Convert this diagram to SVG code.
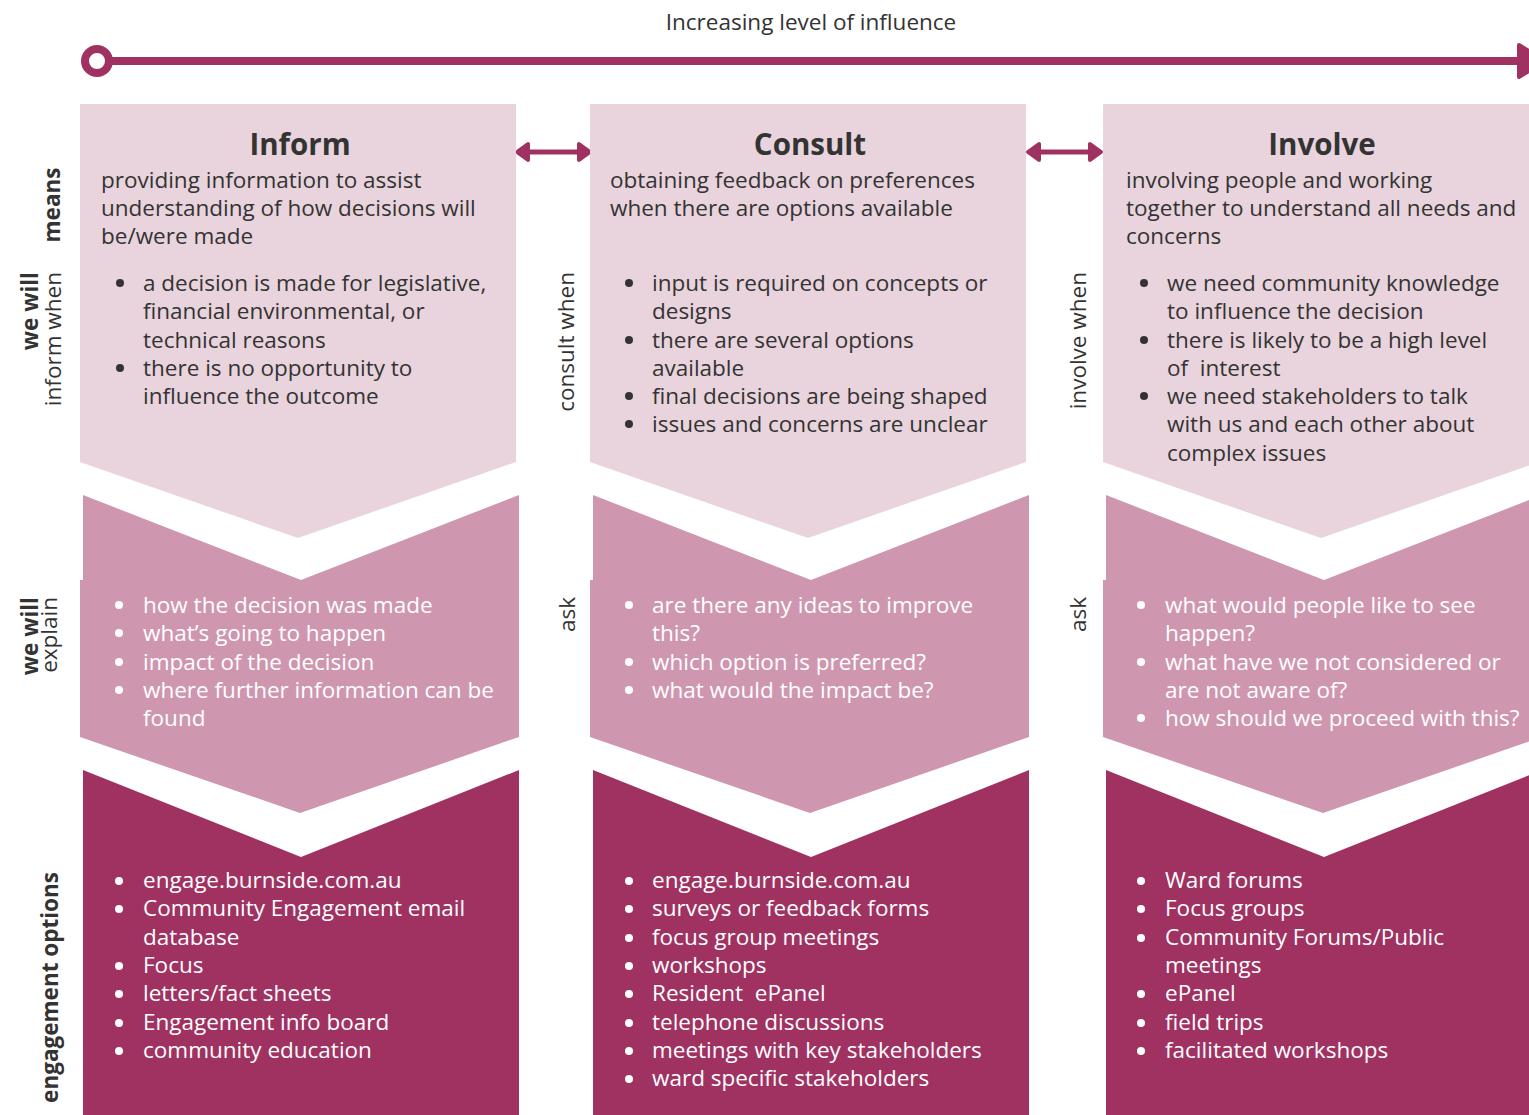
<svg xmlns="http://www.w3.org/2000/svg" width="1529" height="1115" viewBox="0 0 1529 1115">
<style>
.t{font-family:"Open Sans","Noto Sans","Liberation Sans",sans-serif;font-size:22.5px}
.dk{fill:#333333}
.wt{fill:#ffffff}
.h{font-weight:700;font-size:29.5px;text-anchor:middle;fill:#333333}
.b{font-weight:700}
.end{text-anchor:end}
.mid{text-anchor:middle}
.p1{fill:#E9D3DC}
.p2{fill:#CF97AF}
.p3{fill:#A03261}
.ln{stroke:#A03261;fill:none}
.ah{fill:#A03261;stroke:#A03261;stroke-linejoin:round;stroke-width:4}
.bd{fill:#333333}
.bw{fill:#ffffff}
</style>
<rect width="1529" height="1115" fill="#ffffff"/>

<g id="connectors">
  <text class="t dk mid" x="811" y="30">Increasing level of influence</text>
  <line class="ln" x1="109" y1="61" x2="1522" y2="61" stroke-width="8"/>
  <circle cx="97" cy="61" r="12" fill="#ffffff" stroke="#A03261" stroke-width="8"/>
  <polygon class="ah" points="1519,45 1545,61 1519,77"/>
  <line class="ln" x1="526" y1="152" x2="580" y2="152" stroke-width="5"/>
  <polygon class="ah" points="517,152 528,144 528,160"/>
  <polygon class="ah" points="590,152 579,144 579,160"/>
  <line class="ln" x1="1036" y1="152" x2="1093" y2="152" stroke-width="5"/>
  <polygon class="ah" points="1028,152 1039,144 1039,160"/>
  <polygon class="ah" points="1101,152 1090,144 1090,160"/>
</g>

<g id="row-labels">
  <text class="t dk b mid" transform="translate(60,205) rotate(-90)">means</text>
  <text class="t dk b end" transform="translate(38,272) rotate(-90)">we will</text>
  <text class="t dk end" transform="translate(61,272) rotate(-90)">inform when</text>
  <text class="t dk end" transform="translate(574,272) rotate(-90)">consult when</text>
  <text class="t dk end" transform="translate(1086,272) rotate(-90)">involve when</text>
  <text class="t dk b end" transform="translate(38,597) rotate(-90)">we will</text>
  <text class="t dk end" transform="translate(57,597) rotate(-90)">explain</text>
  <text class="t dk end" transform="translate(575,597) rotate(-90)">ask</text>
  <text class="t dk end" transform="translate(1086,597) rotate(-90)">ask</text>
  <text class="t dk b end" transform="translate(58,872) rotate(-90)">engagement options</text>
</g>

<g id="inform">
  <polygon class="p1" points="80,104 516,104 516,462 298,538 80,462"/>
  <polygon class="p2" points="83,495 301,580 519,495 519,737 300,813 80,737 80,580 83,580"/>
  <polygon class="p3" points="83,770 301,857 519,770 519,1115 83,1115"/>
  <text class="t h" x="300" y="155">Inform</text>
  <text class="t dk" x="101" y="188">providing information to assist</text>
  <text class="t dk" x="101" y="216">understanding of how decisions will</text>
  <text class="t dk" x="101" y="244">be/were made</text>
  <circle class="bd" cx="120" cy="283" r="4"/>
  <text class="t dk" x="143" y="291">a decision is made for legislative,</text>
  <text class="t dk" x="143" y="319">financial environmental, or</text>
  <text class="t dk" x="143" y="348">technical reasons</text>
  <circle class="bd" cx="120" cy="368" r="4"/>
  <text class="t dk" x="143" y="376">there is no opportunity to</text>
  <text class="t dk" x="143" y="404">influence the outcome</text>
  <circle class="bw" cx="119" cy="605" r="4"/>
  <text class="t wt" x="143" y="613">how the decision was made</text>
  <circle class="bw" cx="119" cy="633" r="4"/>
  <text class="t wt" x="143" y="641">what’s going to happen</text>
  <circle class="bw" cx="119" cy="662" r="4"/>
  <text class="t wt" x="143" y="670">impact of the decision</text>
  <circle class="bw" cx="119" cy="690" r="4"/>
  <text class="t wt" x="143" y="698">where further information can be</text>
  <text class="t wt" x="143" y="726">found</text>
  <circle class="bw" cx="119" cy="881" r="4"/>
  <text class="t wt" x="143" y="888">engage.burnside.com.au</text>
  <circle class="bw" cx="119" cy="909" r="4"/>
  <text class="t wt" x="143" y="916">Community Engagement email</text>
  <text class="t wt" x="143" y="945">database</text>
  <circle class="bw" cx="119" cy="966" r="4"/>
  <text class="t wt" x="143" y="973">Focus</text>
  <circle class="bw" cx="119" cy="994" r="4"/>
  <text class="t wt" x="143" y="1001">letters/fact sheets</text>
  <circle class="bw" cx="119" cy="1023" r="4"/>
  <text class="t wt" x="143" y="1030">Engagement info board</text>
  <circle class="bw" cx="119" cy="1051" r="4"/>
  <text class="t wt" x="143" y="1058">community education</text>
</g>

<g id="consult">
  <polygon class="p1" points="590,104 1026,104 1026,462 808,538 590,462"/>
  <polygon class="p2" points="593,495 811,580 1029,495 1029,737 810,813 590,737 590,580 593,580"/>
  <polygon class="p3" points="593,770 811,857 1029,770 1029,1115 593,1115"/>
  <text class="t h" x="810" y="155">Consult</text>
  <text class="t dk" x="610" y="188">obtaining feedback on preferences</text>
  <text class="t dk" x="610" y="216">when there are options available</text>
  <circle class="bd" cx="629" cy="283" r="4"/>
  <text class="t dk" x="652" y="291">input is required on concepts or</text>
  <text class="t dk" x="652" y="319">designs</text>
  <circle class="bd" cx="629" cy="340" r="4"/>
  <text class="t dk" x="652" y="348">there are several options</text>
  <text class="t dk" x="652" y="376">available</text>
  <circle class="bd" cx="629" cy="396" r="4"/>
  <text class="t dk" x="652" y="404">final decisions are being shaped</text>
  <circle class="bd" cx="629" cy="424" r="4"/>
  <text class="t dk" x="652" y="432">issues and concerns are unclear</text>
  <circle class="bw" cx="629" cy="605" r="4"/>
  <text class="t wt" x="652" y="613">are there any ideas to improve</text>
  <text class="t wt" x="652" y="641">this?</text>
  <circle class="bw" cx="629" cy="662" r="4"/>
  <text class="t wt" x="652" y="670">which option is preferred?</text>
  <circle class="bw" cx="629" cy="690" r="4"/>
  <text class="t wt" x="652" y="698">what would the impact be?</text>
  <circle class="bw" cx="629" cy="881" r="4"/>
  <text class="t wt" x="652" y="888">engage.burnside.com.au</text>
  <circle class="bw" cx="629" cy="909" r="4"/>
  <text class="t wt" x="652" y="916">surveys or feedback forms</text>
  <circle class="bw" cx="629" cy="938" r="4"/>
  <text class="t wt" x="652" y="945">focus group meetings</text>
  <circle class="bw" cx="629" cy="966" r="4"/>
  <text class="t wt" x="652" y="973">workshops</text>
  <circle class="bw" cx="629" cy="994" r="4"/>
  <text class="t wt" x="652" y="1001">Resident&#160; ePanel</text>
  <circle class="bw" cx="629" cy="1023" r="4"/>
  <text class="t wt" x="652" y="1030">telephone discussions</text>
  <circle class="bw" cx="629" cy="1051" r="4"/>
  <text class="t wt" x="652" y="1058">meetings with key stakeholders</text>
  <circle class="bw" cx="629" cy="1079" r="4"/>
  <text class="t wt" x="652" y="1086">ward specific stakeholders</text>
</g>

<g id="involve">
  <polygon class="p1" points="1103,104 1539,104 1539,462 1321,538 1103,462"/>
  <polygon class="p2" points="1106,495 1324,580 1542,495 1542,737 1323,813 1103,737 1103,580 1106,580"/>
  <polygon class="p3" points="1106,770 1324,857 1542,770 1542,1115 1106,1115"/>
  <text class="t h" x="1322" y="155">Involve</text>
  <text class="t dk" x="1126" y="188">involving people and working</text>
  <text class="t dk" x="1126" y="216">together to understand all needs and</text>
  <text class="t dk" x="1126" y="244">concerns</text>
  <circle class="bd" cx="1144" cy="283" r="4"/>
  <text class="t dk" x="1167" y="291">we need community knowledge</text>
  <text class="t dk" x="1167" y="319">to influence the decision</text>
  <circle class="bd" cx="1144" cy="340" r="4"/>
  <text class="t dk" x="1167" y="348">there is likely to be a high level</text>
  <text class="t dk" x="1167" y="376">of&#160; interest</text>
  <circle class="bd" cx="1144" cy="396" r="4"/>
  <text class="t dk" x="1167" y="404">we need stakeholders to talk</text>
  <text class="t dk" x="1167" y="432">with us and each other about</text>
  <text class="t dk" x="1167" y="461">complex issues</text>
  <circle class="bw" cx="1141" cy="605" r="4"/>
  <text class="t wt" x="1165" y="613">what would people like to see</text>
  <text class="t wt" x="1165" y="641">happen?</text>
  <circle class="bw" cx="1141" cy="662" r="4"/>
  <text class="t wt" x="1165" y="670">what have we not considered or</text>
  <text class="t wt" x="1165" y="698">are not aware of?</text>
  <circle class="bw" cx="1141" cy="718" r="4"/>
  <text class="t wt" x="1165" y="726">how should we proceed with this?</text>
  <circle class="bw" cx="1141" cy="881" r="4"/>
  <text class="t wt" x="1165" y="888">Ward forums</text>
  <circle class="bw" cx="1141" cy="909" r="4"/>
  <text class="t wt" x="1165" y="916">Focus groups</text>
  <circle class="bw" cx="1141" cy="938" r="4"/>
  <text class="t wt" x="1165" y="945">Community Forums/Public</text>
  <text class="t wt" x="1165" y="973">meetings</text>
  <circle class="bw" cx="1141" cy="994" r="4"/>
  <text class="t wt" x="1165" y="1001">ePanel</text>
  <circle class="bw" cx="1141" cy="1023" r="4"/>
  <text class="t wt" x="1165" y="1030">field trips</text>
  <circle class="bw" cx="1141" cy="1051" r="4"/>
  <text class="t wt" x="1165" y="1058">facilitated workshops</text>
</g>
</svg>
